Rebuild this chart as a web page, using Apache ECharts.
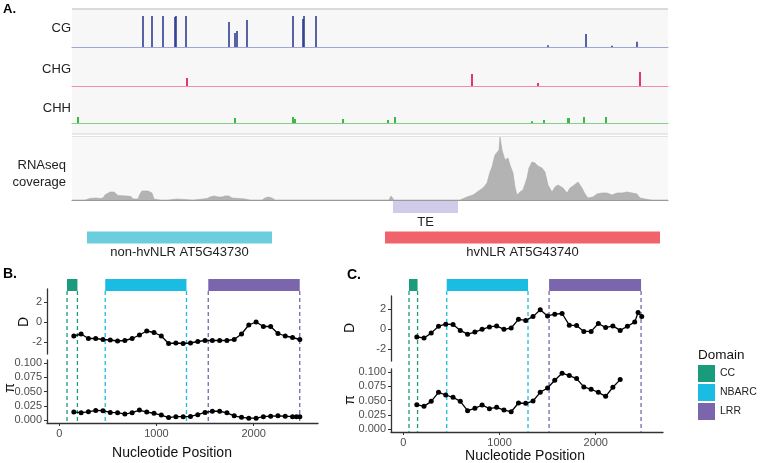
<!DOCTYPE html>
<html>
<head>
<meta charset="utf-8">
<script src="https://cdn.jsdelivr.net/npm/echarts@6.0.0/dist/echarts.min.js"></script>
<style>
html,body{margin:0;padding:0;background:#fff;}
#chart{width:760px;height:463px;}
</style>
</head>
<body>
<div id="chart"></div>
<script>
// ---- panel A : methylation tracks (position in bp, level 0..1)
var cgPos = [710, 800, 910, 1030, 1040, 1140, 1570, 1630, 1650, 1750, 2210, 2310, 2320, 2440, 4760, 5140, 5400, 5650];
var cgLevel = [1.0, 1.0, 1.0, 0.97, 1.0, 1.0, 0.81, 0.45, 0.52, 0.87, 1.0, 0.9, 1.0, 1.0, 0.06, 0.42, 0.04, 0.17];
var chgPos = [1150, 4000, 4660, 5680];
var chgLevel = [0.26, 0.39, 0.1, 0.45];
var chhPos = [60, 1630, 2210, 2230, 2710, 3160, 3230, 4600, 4720, 4960, 4970, 5120, 5340];
var chhLevel = [0.19, 0.16, 0.19, 0.13, 0.13, 0.1, 0.19, 0.06, 0.1, 0.16, 0.16, 0.19, 0.19];

// RNAseq coverage
var rnaPos = [0,130,150,180,240,280,310,330,350,380,420,440,460,540,590,610,660,680,700,760,800,820,880,960,980,1050,1070,1210,1220,1310,1350,1380,1420,1460,1500,1530,1570,1600,1730,1780,1900,1930,1960,2000,2030,2570,2580,2600,3170,3190,3200,3220,3880,3900,3950,4010,4080,4110,4150,4180,4200,4230,4250,4270,4280,4300,4330,4360,4380,4410,4430,4450,4480,4510,4550,4570,4600,4630,4660,4700,4730,4760,4800,4830,4860,4910,4950,4980,5010,5060,5100,5130,5160,5210,5250,5300,5350,5400,5450,5500,5550,5600,5650,5680,5730,5760,5800,5960];
var rnaCov = [0,0,1,1.5,2,1.5,2,5,7,8,8,6,4.5,4,3.5,1,1,6,9,9,7,1,0,0,1,1,0,0,1,1,1.5,3,4,3,3,4,4,2,1,0,0,2,3,2,0,0,0.5,0,0,4,6,0,0,1.7,3,5,10,12,17,28,33,45,45,50,63,50,40,42,35,27,13,5,8,10,22,32,38,37,34,32,28,15,8,13,15,12,7,12,14,18,12,6,2,3,6,7,7,5,7,7,8,7,6,2,1,0.5,0,0];

// annotated features
var featName = ['TE', 'non-hvNLR AT5G43730', 'hvNLR AT5G43740'];
var featStart = [3210, 150, 3130];
var featEnd = [3860, 2000, 5880];
var featRow = [0, 1, 1];

// ---- panels B / C
var domainNames = ['CC', 'NBARC', 'LRR'];
var domStartB = [80, 473, 1533];
var domEndB = [187, 1309, 2474];
var domStartC = [59, 451, 1515];
var domEndC = [148, 1296, 2471];

var posB = [150,225,300,375,450,525,600,675,750,825,900,975,1050,1125,1200,1275,1350,1425,1500,1575,1650,1725,1800,1875,1950,2025,2100,2175,2250,2325,2400,2475];
var tajimaB = [-1.4,-1.2,-1.65,-1.65,-1.75,-1.8,-1.9,-1.85,-1.65,-1.3,-0.9,-1.05,-1.4,-2.15,-2.1,-2.15,-2.1,-1.95,-1.85,-1.85,-1.85,-1.85,-1.75,-1.2,-0.3,0.0,-0.45,-0.45,-1.15,-1.4,-1.55,-1.75];
var piPosB = [150,225,300,375,450,525,600,675,750,825,900,975,1050,1125,1200,1275,1350,1425,1500,1575,1650,1725,1800,1875,1950,2025,2100,2175,2250,2325,2400,2440,2475];
var piB = [0.014,0.013,0.0145,0.017,0.0165,0.0135,0.013,0.0105,0.013,0.0175,0.014,0.012,0.0088,0.0045,0.006,0.006,0.0065,0.0095,0.0135,0.0155,0.0155,0.0128,0.0076,0.005,0.0035,0.0035,0.006,0.007,0.0075,0.007,0.006,0.0058,0.0058];

var posC = [140,215,290,366,441,517,592,668,744,819,895,970,1046,1121,1197,1272,1348,1423,1499,1574,1650,1725,1801,1876,1952,2027,2103,2178,2254,2329,2405,2440,2478];
var tajimaC = [-0.79,-0.9,-0.41,0.28,0.48,0.45,-0.14,-0.52,-0.31,-0.03,0.21,0.31,-0.03,0.1,0.97,0.86,1.24,1.93,1.31,1.48,1.55,0.38,0.34,-0.24,-0.24,0.55,0.14,0.31,-0.14,0.28,0.69,1.65,1.25];
var piPosC = [140,215,290,366,441,517,592,668,744,819,895,970,1046,1121,1197,1272,1348,1423,1499,1574,1650,1725,1801,1876,1952,2027,2103,2178,2254];
var piC = [0.0427,0.0398,0.0485,0.0643,0.0596,0.0556,0.0485,0.0322,0.0363,0.0421,0.0357,0.038,0.0333,0.0304,0.0456,0.045,0.0491,0.0643,0.0719,0.0854,0.0977,0.0936,0.0883,0.0737,0.0696,0.0643,0.0573,0.0731,0.0865];

var dTicks = [-2, 0, 2];
var piTicks = [0, 0.025, 0.05, 0.075, 0.1];
var posTicks = [0, 1000, 2000];

var FONT = '"Liberation Sans", Arial, sans-serif';
var domainColors = ['#1a9b7b', '#1abce3', '#7b66ae'];
var featureColors = ['#cfcbe8', '#6ccddd', '#f0636b'];
var axisColor = '#333';

var chart = echarts.init(document.getElementById('chart'));

function pairs(xs, ys){
    return xs.map(function(x, i){ return [x, ys[i]]; });
}

// thin methylation bars
function tickItem(w){
    return function(params, api){
        var p = api.coord([api.value(0), api.value(1)]);
        var base = api.coord([api.value(0), 0]);
        return {type:'rect', shape:{x:p[0]-w/2, y:p[1], width:w, height:base[1]-p[1]}, style:{fill:api.visual('color')}};
    };
}

function featureItem(params, api){
    var cs = params.coordSys;
    var a = api.coord([api.value(0), 0])[0];
    var b = api.coord([api.value(1), 0])[0];
    var top = cs.y + (api.value(2) === 0 ? 0 : 30.5);
    return {type:'group', children:[
        {type:'rect', shape:{x:a, y:top, width:b-a, height:12}, style:{fill:featureColors[params.dataIndex]}},
        {type:'text', style:{text:featName[params.dataIndex], x:(a+b)/2, y:top+21, align:'center', verticalAlign:'middle', fill:'#222', fontSize:13, fontFamily:FONT}}
    ]};
}

// domain bar on top + dashed boundaries down to the axis
function domainItem(params, api){
    var cs = params.coordSys;
    var a = api.coord([api.value(0), 0])[0];
    var b = api.coord([api.value(1), 0])[0];
    var color = api.visual('color');
    var top = cs.y, barH = 12, bottom = cs.y + cs.height;
    var dash = {stroke:color, lineWidth:1.3, lineDash:[4, 3]};
    return {type:'group', children:[
        {type:'rect', shape:{x:a, y:top, width:b-a, height:barH}, style:{fill:color}},
        {type:'line', shape:{x1:a, y1:top+barH, x2:a, y2:bottom}, style:dash},
        {type:'line', shape:{x1:b, y1:top+barH, x2:b, y2:bottom}, style:dash}
    ]};
}

function grid(left, top, width, height){
    return {left:left, top:top, width:width, height:height, containLabel:false, outerBoundsMode:'none'};
}

function trackX(g, color){
    return {type:'value', gridIndex:g, min:0, max:5960,
        axisLine:{show:!!color, onZero:false, lineStyle:{color:color || '#999', width:1.2}},
        axisTick:{show:false}, axisLabel:{show:false}, splitLine:{show:false}};
}
function hiddenY(g, max){
    return {type:'value', gridIndex:g, min:0, max:max, show:false};
}
function posX(g, min, max, show){
    return {type:'value', gridIndex:g, min:min, max:max, show:show,
        axisLine:{show:true, onZero:false, lineStyle:{color:axisColor, width:1.3}},
        axisTick:{show:true, length:3, customValues:posTicks, lineStyle:{color:axisColor}},
        axisLabel:{customValues:posTicks, margin:5, color:'#4d4d4d', fontSize:11, fontFamily:FONT,
            formatter:function(v){ return String(v); }},
        splitLine:{show:false}};
}
function valueY(g, min, max, ticks, digits){
    return {type:'value', gridIndex:g, min:min, max:max,
        axisLine:{show:true, onZero:false, lineStyle:{color:axisColor, width:1.3}},
        axisTick:{show:true, length:3, customValues:ticks, lineStyle:{color:axisColor}},
        axisLabel:{customValues:ticks, margin:5, color:'#4d4d4d', fontSize:11, fontFamily:FONT,
            formatter:function(v){ return digits ? v.toFixed(digits) : String(v); }},
        splitLine:{show:false}};
}
function lineSeries(xi, ys){
    return {type:'line', xAxisIndex:xi, yAxisIndex:xi, z:5, symbol:'circle', symbolSize:5,
        itemStyle:{color:'#000'}, lineStyle:{color:'#000', width:1.3}, data:ys, silent:true};
}
function domainSeries(xi, starts, ends){
    return domainNames.map(function(n, i){
        return {type:'custom', name:n, xAxisIndex:xi, yAxisIndex:xi, z:2, silent:true,
            itemStyle:{color:domainColors[i]}, renderItem:domainItem,
            data:[[starts[i], ends[i]]]};
    });
}
function text(t, x, y, opt){
    return {type:'text', x:x, y:y, silent:true,
        style:Object.assign({text:t, fill:'#222', fontSize:13, fontFamily:FONT, align:'right', verticalAlign:'middle'}, opt || {})};
}
function rotText(t, x, y){
    return {type:'text', x:x, y:y, rotation:Math.PI/2, silent:true,
        style:{text:t, fill:'#111', fontSize:14, fontFamily:FONT, align:'center', verticalAlign:'middle'}};
}

var option = {
    animation:false,
    backgroundColor:'#fff',
    textStyle:{fontFamily:FONT},
    grid:[
        grid(72, 16, 596, 31),    // 0 CG
        grid(72, 55, 596, 31),    // 1 CHG
        grid(72, 92, 596, 31),    // 2 CHH
        grid(72, 137, 596, 63),   // 3 RNAseq
        grid(72, 201, 596, 60),   // 4 features
        grid(47, 279, 271, 144),  // 5 B domains
        grid(47, 289, 271, 65),   // 6 B D
        grid(47, 360, 271, 63),   // 7 B pi
        grid(391, 279, 272, 153), // 8 C domains
        grid(391, 296, 272, 65),  // 9 C D
        grid(391, 369, 272, 63)   // 10 C pi
    ],
    xAxis:[
        trackX(0, '#9ea6d8'),
        trackX(1, '#f38db0'),
        trackX(2, '#86d08a'),
        trackX(3, '#9a9a9a'),
        trackX(4, null),
        {type:'value', gridIndex:5, min:-126, max:2662, show:false},
        {type:'value', gridIndex:6, min:-126, max:2662, show:false},
        posX(7, -126, 2662, true),
        {type:'value', gridIndex:8, min:-128, max:2699, show:false},
        {type:'value', gridIndex:9, min:-128, max:2699, show:false},
        posX(10, -128, 2699, true)
    ],
    yAxis:[
        hiddenY(0, 1), hiddenY(1, 1), hiddenY(2, 1), hiddenY(3, 63), hiddenY(4, 1),
        hiddenY(5, 1),
        valueY(6, -3.2, 3.3, dTicks, 0),
        valueY(7, -0.005, 0.105, piTicks, 3),
        hiddenY(8, 1),
        valueY(9, -3.2, 3.3, dTicks, 0),
        valueY(10, -0.005, 0.105, piTicks, 3)
    ],
    legend:{
        data:domainNames, orient:'vertical', left:698, top:365, padding:0,
        icon:'rect', itemWidth:17, itemHeight:17, itemGap:2, selectedMode:false,
        textStyle:{fontSize:10.5, color:'#222', fontFamily:FONT}
    },
    graphic:[
        {type:'rect', silent:true, z:0, shape:{x:72, y:10, width:596, height:124}, style:{fill:'#f7f7f7'}},
        {type:'rect', silent:true, z:0, shape:{x:72, y:137, width:596, height:63}, style:{fill:'#f8f8f8'}},
        {type:'line', silent:true, shape:{x1:72, y1:9, x2:668, y2:9}, style:{stroke:'#dadada', lineWidth:2}},
        {type:'line', silent:true, shape:{x1:72, y1:134, x2:668, y2:134}, style:{stroke:'#d4d4d4', lineWidth:1}},
        {type:'line', silent:true, shape:{x1:72, y1:136.5, x2:668, y2:136.5}, style:{stroke:'#e2e2e2', lineWidth:1}},
        text('A.', 3, 9, {align:'left', fontWeight:'bold', fontSize:13, fill:'#000'}),
        text('CG', 71, 28),
        text('CHG', 71, 69),
        text('CHH', 71, 108),
        text('RNAseq', 66, 165),
        text('coverage', 66, 182),
        text('B.', 3, 274, {align:'left', fontWeight:'bold', fontSize:14, fill:'#000'}),
        text('C.', 347, 275, {align:'left', fontWeight:'bold', fontSize:14, fill:'#000'}),
        rotText('D', 24, 322),
        rotText('\u03c0', 10, 388),
        rotText('D', 350, 328),
        rotText('\u03c0', 350, 400),
        text('Nucleotide Position', 172, 453, {align:'center', fontSize:14, fill:'#111'}),
        text('Nucleotide Position', 525, 456, {align:'center', fontSize:14, fill:'#111'}),
        text('Domain', 698, 355, {align:'left', fontSize:13.5, fill:'#111'})
    ],
    series:[
        {type:'custom', name:'CG', xAxisIndex:0, yAxisIndex:0, renderItem:tickItem(1.6), itemStyle:{color:'#2f3b8f'}, data:pairs(cgPos, cgLevel), silent:true},
        {type:'custom', name:'CHG', xAxisIndex:1, yAxisIndex:1, renderItem:tickItem(2), itemStyle:{color:'#e8356f'}, data:pairs(chgPos, chgLevel), silent:true},
        {type:'custom', name:'CHH', xAxisIndex:2, yAxisIndex:2, renderItem:tickItem(2), itemStyle:{color:'#3fb54c'}, data:pairs(chhPos, chhLevel), silent:true},
        {type:'line', name:'RNAseq', xAxisIndex:3, yAxisIndex:3, showSymbol:false, silent:true,
            lineStyle:{color:'#a9a9a9', width:0.6}, areaStyle:{color:'#b3b3b3', opacity:1},
            data:pairs(rnaPos, rnaCov)},
        {type:'custom', name:'features', xAxisIndex:4, yAxisIndex:4, renderItem:featureItem, silent:true,
            data:featStart.map(function(s, i){ return [s, featEnd[i], featRow[i]]; })}
    ]
    .concat(domainSeries(5, domStartB, domEndB))
    .concat([lineSeries(6, pairs(posB, tajimaB)), lineSeries(7, pairs(piPosB, piB))])
    .concat(domainSeries(8, domStartC, domEndC))
    .concat([lineSeries(9, pairs(posC, tajimaC)), lineSeries(10, pairs(piPosC, piC))])
};

chart.setOption(option);
window.addEventListener('resize', function(){ chart.resize(); });
</script>
</body>
</html>
